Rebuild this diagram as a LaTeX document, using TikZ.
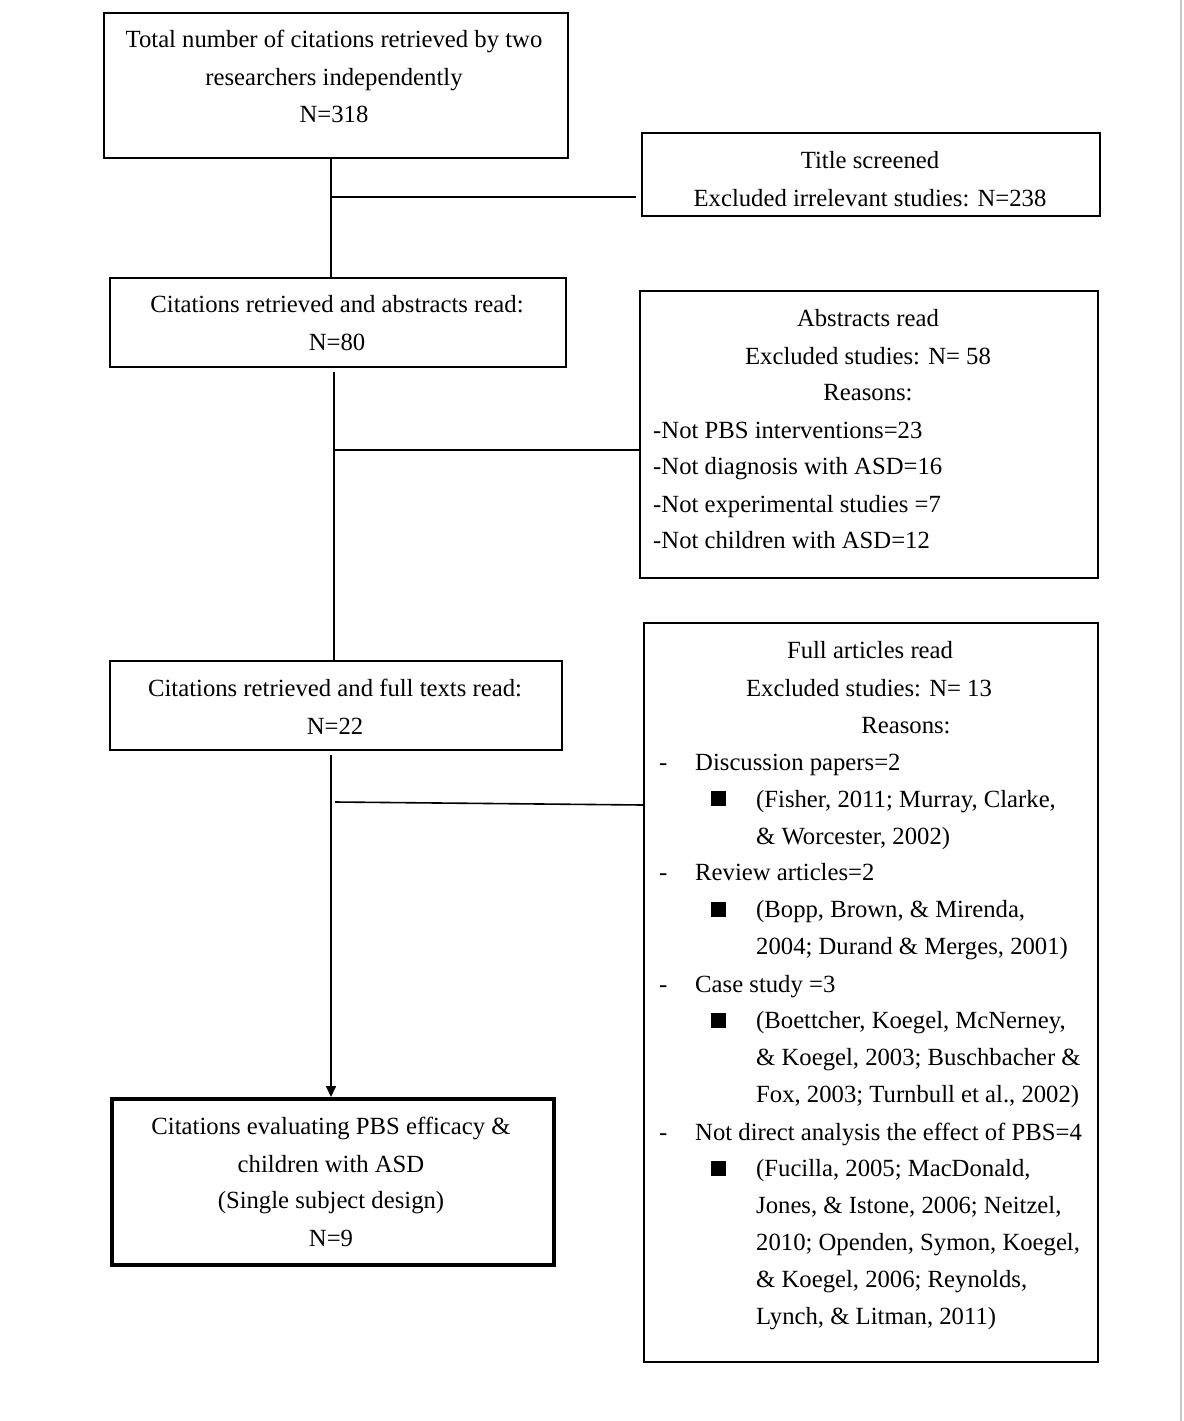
\documentclass[tikz,border=0pt]{standalone}
\usepackage{fontspec}
\setmainfont{Liberation Serif}
\usetikzlibrary{arrows.meta}
\begin{document}
\begin{tikzpicture}[x=1pt,y=-1pt,
  box/.style={draw, line width=1.6pt, inner sep=0pt, anchor=north west},
  thickbox/.style={box, line width=3.6pt},
  txt/.style={font=\fontsize{24.7}{37}\selectfont, inner sep=0pt},
  ctr/.style={txt, anchor=base},
  lft/.style={txt, anchor=base west},
  sq/.style={fill=black, inner sep=0pt, minimum size=15pt},
  conn/.style={line width=1.6pt},
  arr/.style={conn, -{Triangle[length=11pt,width=10pt]}}]
\useasboundingbox (0,0) rectangle (1183,1421);
\draw[line width=2pt, black!22] (1181,0) -- (1181,1421);

% boxes
\node[box, minimum width=464pt, minimum height=145pt] (b1) at (103,12) {};
\node[box, minimum width=458pt, minimum height=83pt] (bT) at (641,132) {};
\node[box, minimum width=456pt, minimum height=89pt] (b2) at (109,277) {};
\node[box, minimum width=458pt, minimum height=287pt] (bA) at (639,290) {};
\node[box, minimum width=452pt, minimum height=89pt] (b3) at (109,660) {};
\node[box, minimum width=454pt, minimum height=739pt] (bF) at (643,622) {};
\node[thickbox, minimum width=442pt, minimum height=166pt] (b4) at (110,1097) {};

% texts box 1
\node[ctr] (t1a) at (334,48) {Total number of citations retrieved by two};
\node[ctr] (t1b) at (334,85) {researchers independently};
\node[ctr] (t1c) at (334,122) {N=318};
% title screened
\node[ctr] (tTa) at (870,168) {Title screened};
\node[ctr] (tTb) at (870,206) {Excluded irrelevant studies: N=238};
% box 2
\node[ctr] (t2a) at (337,312) {Citations retrieved and abstracts read:};
\node[ctr] (t2b) at (337,350) {N=80};
% abstracts
\node[ctr] (tAa) at (868,326) {Abstracts read};
\node[ctr] (tAb) at (868,364) {Excluded studies: N= 58};
\node[ctr] (tAc) at (868,400) {Reasons:};
\node[lft] (tAd) at (653,438) {-Not PBS interventions=23};
\node[lft] (tAe) at (653,474) {-Not diagnosis with ASD=16};
\node[lft] (tAf) at (653,512) {-Not experimental studies =7};
\node[lft] (tAg) at (653,548) {-Not children with ASD=12};
% box 3
\node[ctr] (t3a) at (335,696) {Citations retrieved and full texts read:};
\node[ctr] (t3b) at (335,734) {N=22};
% full articles
\node[ctr] (tF0) at (870,658) {Full articles read};
\node[ctr] (tF1) at (869,696) {Excluded studies: N= 13};
\node[ctr] (tF2) at (906,733) {Reasons:};
\node[lft] (dF3) at (659,770) {-};
\node[lft] (tF3) at (695,770) {Discussion papers=2};
\node[sq] (q4) at (718,798) {};
\node[lft] (tF4) at (756,807) {(Fisher, 2011; Murray, Clarke,};
\node[lft] (tF5) at (756,844) {\& Worcester, 2002)};
\node[lft] (dF6) at (659,880) {-};
\node[lft] (tF6) at (695,880) {Review articles=2};
\node[sq] (q7) at (718,909) {};
\node[lft] (tF7) at (756,917) {(Bopp, Brown, \& Mirenda,};
\node[lft] (tF8) at (756,954) {2004; Durand \& Merges, 2001)};
\node[lft] (dF9) at (659,992) {-};
\node[lft] (tF9) at (695,992) {Case study =3};
\node[sq] (q10) at (718,1020) {};
\node[lft] (tF10) at (756,1028) {(Boettcher, Koegel, McNerney,};
\node[lft] (tF11) at (756,1065) {\& Koegel, 2003; Buschbacher \&};
\node[lft] (tF12) at (756,1102) {Fox, 2003; Turnbull et al., 2002)};
\node[lft] (dF13) at (659,1140) {-};
\node[lft] (tF13) at (695,1140) {Not direct analysis the effect of PBS=4};
\node[sq] (q14) at (718,1168) {};
\node[lft] (tF14) at (756,1176) {(Fucilla, 2005; MacDonald,};
\node[lft] (tF15) at (756,1213) {Jones, \& Istone, 2006; Neitzel,};
\node[lft] (tF16) at (756,1250) {2010; Openden, Symon, Koegel,};
\node[lft] (tF17) at (756,1287) {\& Koegel, 2006; Reynolds,};
\node[lft] (tF18) at (756,1324) {Lynch, \& Litman, 2011)};
% box 4
\node[ctr] (t4a) at (331,1134) {Citations evaluating PBS efficacy \&};
\node[ctr] (t4b) at (331,1172) {children with ASD};
\node[ctr] (t4c) at (331,1208) {(Single subject design)};
\node[ctr] (t4d) at (331,1246) {N=9};

% connectors
\coordinate (v1) at (331,0);
\coordinate (v2) at (334,0);
\coordinate (h1) at (0,197);
\coordinate (h2) at (0,450);
\coordinate (h3a) at (335,802);
\coordinate (h3b) at (0,805);
\draw[conn] (v1 |- b1.south) -- (v1 |- b2.north);
\draw[conn] (v1 |- h1) -- ([xshift=-5pt]bT.west |- h1);
\draw[conn] ([yshift=-4pt]v2 |- b2.south) -- (v2 |- b3.north);
\draw[conn] (v2 |- h2) -- (bA.west |- h2);
\draw[arr] ([yshift=-4pt]v1 |- b3.south) -- (v1 |- b4.north);
\draw[conn] (h3a) -- (bF.west |- h3b);
\end{tikzpicture}
\end{document}
